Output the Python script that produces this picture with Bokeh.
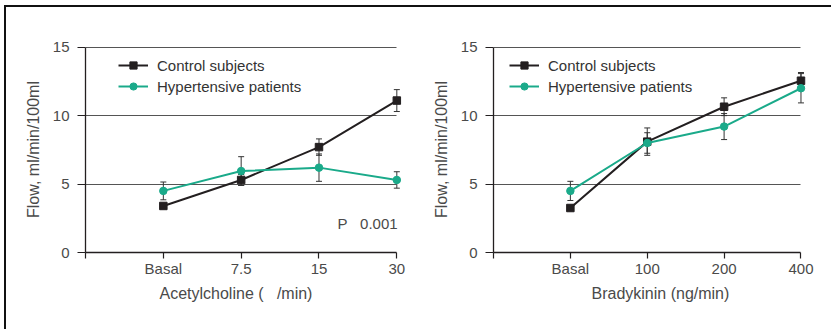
from bokeh.plotting import figure
from bokeh.layouts import row, column
from bokeh.models import (FixedTicker, Whisker, ColumnDataSource, Legend, LegendItem,
                          Label, TeeHead, Range1d, Title)
from bokeh.embed import file_html
from bokeh.resources import INLINE

# ---------------- data ----------------
ach_categories = ["Basal", "7.5", "15", "30"]
ach_control = [3.4, 5.3, 7.7, 11.1]
ach_control_err = [0.2, 0.4, 0.6, 0.8]
ach_hyper = [4.5, 5.95, 6.2, 5.3]
ach_hyper_err = [0.65, 1.05, 1.0, 0.6]

bk_categories = ["Basal", "100", "200", "400"]
bk_control = [3.25, 8.1, 10.65, 12.55]
bk_control_err = [0.2, 1.0, 0.65, 0.6]
bk_hyper = [4.5, 8.0, 9.2, 12.0]
bk_hyper_err = [0.7, 0.75, 0.95, 1.07]

y_ticks = [0, 5, 10, 15]
series_names = ["Control subjects", "Hypertensive patients"]

ach_xlabel = "Acetylcholine (\u00a0\u00a0\u00a0/min)"
bk_xlabel = "Bradykinin (ng/min)"
y_label = "Flow, ml/min/100ml"
p_text = "P\u00a0\u00a0\u00a00.001"

# ---------------- style ----------------
BLACK = "#231f20"
GREEN = "#1aaa8a"
TXT = "#4a4a4a"
FONT = "Liberation Sans"
FS = "15px"
LFS = "16px"


def make_panel(cats, ctrl, ctrl_err, hyp, hyp_err, xlabel, width, bl, br,
               legend_x, label_offset, extra=None):
    xs = list(range(1, len(cats) + 1))
    n = len(cats)
    p = figure(width=width, height=322, output_backend="svg", toolbar_location=None,
               x_range=Range1d(0, n + 0.15), y_range=Range1d(0, 15.05),
               min_border_left=bl, min_border_right=br, min_border_top=39,
               min_border_bottom=77)
    p.outline_line_color = None
    p.background_fill_color = "white"
    p.border_fill_color = "white"

    # grid
    p.xgrid.visible = False
    p.ygrid.ticker = FixedTicker(ticks=y_ticks)
    p.ygrid.grid_line_color = "#555555"
    p.ygrid.grid_line_width = 1.2
    p.ygrid.cross_bounds = (0, n)

    # axes
    for ax in (p.xaxis[0], p.yaxis[0]):
        ax.axis_line_color = BLACK
        ax.axis_line_width = 1.3
        ax.major_tick_line_color = BLACK
        ax.major_tick_line_width = 1.2
        ax.major_tick_in = 0
        ax.minor_tick_line_color = None
        ax.major_label_text_font = FONT
        ax.major_label_text_font_size = FS
        ax.major_label_text_color = TXT

    xa = p.xaxis[0]
    xa.ticker = FixedTicker(ticks=[0] + xs)
    overrides = {0: ""}
    for x, c in zip(xs, cats):
        overrides[x] = c
    xa.major_label_overrides = overrides
    xa.major_tick_out = 6
    xa.major_label_standoff = 1
    xa.bounds = (0, n)

    ya = p.yaxis[0]
    ya.ticker = FixedTicker(ticks=y_ticks)
    ya.major_tick_out = 8
    ya.major_label_standoff = 8
    ya.bounds = (0, 15)
    ya.axis_label = y_label
    ya.axis_label_text_font = FONT
    ya.axis_label_text_font_size = LFS
    ya.axis_label_text_font_style = "normal"
    ya.axis_label_text_color = TXT
    ya.axis_label_standoff = 8

    # error bars
    for vals, errs in ((ctrl, ctrl_err), (hyp, hyp_err)):
        src = ColumnDataSource(dict(x=xs,
                                    lower=[v - e for v, e in zip(vals, errs)],
                                    upper=[v + e for v, e in zip(vals, errs)]))
        w = Whisker(base="x", lower="lower", upper="upper", source=src,
                    line_color="#333333", line_width=1,
                    upper_head=TeeHead(size=6, line_color="#333333", line_width=1),
                    lower_head=TeeHead(size=6, line_color="#333333", line_width=1))
        p.add_layout(w)

    l1 = p.line(xs, ctrl, line_color=BLACK, line_width=2)
    m1 = p.scatter(xs, ctrl, marker="square", size=7.5, color=BLACK)
    l2 = p.line(xs, hyp, line_color=GREEN, line_width=2)
    m2 = p.scatter(xs, hyp, marker="circle", size=7.5, color=GREEN)

    legend = Legend(items=[LegendItem(label=series_names[0], renderers=[l1, m1]),
                           LegendItem(label=series_names[1], renderers=[l2, m2])],
                    location=(legend_x, 157), glyph_width=30, glyph_height=18,
                    label_height=18, label_standoff=9, spacing=3, padding=3, margin=0,
                    border_line_color=None, background_fill_alpha=0,
                    label_text_font=FONT, label_text_font_size=FS, label_text_color="#333333")
    p.add_layout(legend)

    p.add_layout(Title(text=xlabel, align="left", offset=label_offset, standoff=6,
                       text_font=FONT, text_font_size=LFS, text_font_style="normal",
                       text_color=TXT), "below")
    if extra is not None:
        p.add_layout(Label(x=n + 0.01, y=2.12, text=extra, text_align="right",
                           text_baseline="middle", text_font=FONT, text_font_size=FS,
                           text_color=TXT))
    return p


p1 = make_panel(ach_categories, ach_control, ach_control_err, ach_hyper, ach_hyper_err,
                ach_xlabel, 410, 79, 8, 33, 74, extra=p_text)
p2 = make_panel(bk_categories, bk_control, bk_control_err, bk_hyper, bk_hyper_err,
                bk_xlabel, 415, 77, 19, 16, 98)

inner = row(p1, p2, styles={"border-top": "2px solid #111111",
                            "border-left": "2px solid #111111"})
layout = column(inner, styles={"padding-left": "4px", "padding-top": "5px"})

open("out.html", "w").write(file_html(layout, INLINE))
